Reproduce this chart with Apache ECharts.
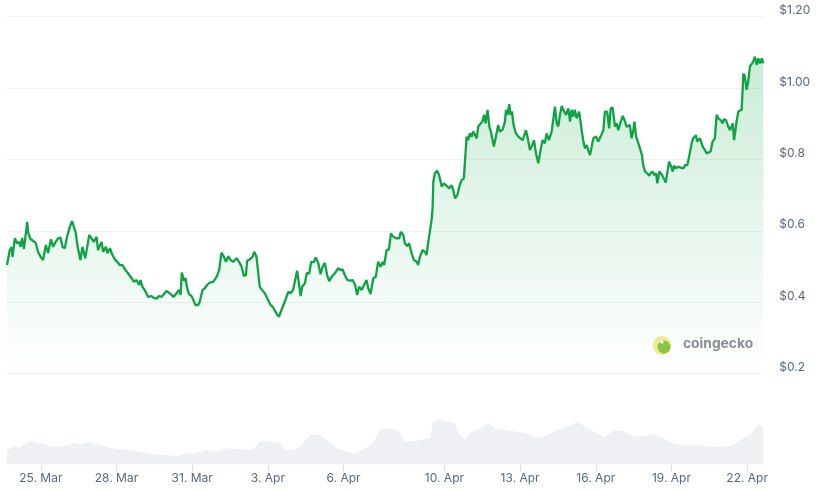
<!DOCTYPE html>
<html>
<head>
<meta charset="utf-8">
<script src="https://cdn.jsdelivr.net/npm/echarts@6/dist/echarts.min.js"></script>
<style>
html,body{margin:0;padding:0;background:#fff;}
#chart{width:827px;height:491px;}
</style>
</head>
<body>
<div id="chart"></div>
<script>
// Time is measured in days from 25 Mar 00:00
const priceDays = [-1.34,-1.23,-1.16,-1.12,-1.03,-0.94,-0.86,-0.80,-0.74,-0.67,-0.59,-0.54,-0.50,-0.41,-0.31,-0.20,-0.11,-0.01,0.09,0.20,0.29,0.40,0.49,0.59,0.69,0.78,0.86,0.95,1.04,1.15,1.24,1.31,1.39,1.46,1.52,1.57,1.65,1.76,1.84,1.92,2.01,2.10,2.21,2.27,2.41,2.47,2.58,2.64,2.74,2.84,2.93,3.03,3.13,3.24,3.33,3.40,3.46,3.60,3.69,3.79,3.90,3.95,4.03,4.12,4.25,4.39,4.48,4.59,4.69,4.79,4.88,4.98,5.09,5.18,5.27,5.38,5.48,5.54,5.59,5.67,5.74,5.80,5.88,5.98,6.04,6.13,6.24,6.30,6.41,6.50,6.59,6.70,6.83,6.97,7.07,7.16,7.26,7.34,7.43,7.52,7.62,7.76,7.86,7.96,8.05,8.13,8.18,8.29,8.39,8.46,8.55,8.62,8.68,8.77,8.88,9.01,9.11,9.19,9.35,9.44,9.54,9.67,9.81,9.90,10.00,10.07,10.16,10.23,10.30,10.36,10.47,10.54,10.64,10.72,10.82,10.90,11.00,11.09,11.17,11.26,11.35,11.43,11.53,11.66,11.79,11.88,11.96,12.05,12.15,12.25,12.36,12.46,12.54,12.62,12.72,12.81,12.91,12.98,13.07,13.18,13.28,13.37,13.47,13.55,13.61,13.71,13.80,13.88,13.94,14.08,14.21,14.27,14.37,14.43,14.52,14.60,14.70,14.79,14.90,14.96,15.03,15.13,15.23,15.29,15.36,15.42,15.49,15.53,15.56,15.62,15.71,15.79,15.89,15.98,16.09,16.19,16.28,16.35,16.42,16.51,16.59,16.68,16.77,16.81,16.88,16.94,17.01,17.08,17.14,17.21,17.28,17.34,17.41,17.50,17.57,17.63,17.71,17.78,17.84,17.91,17.96,18.04,18.13,18.20,18.31,18.40,18.44,18.50,18.57,18.62,18.68,18.73,18.83,18.93,18.99,19.10,19.15,19.23,19.28,19.39,19.48,19.55,19.63,19.72,19.81,19.89,19.98,20.05,20.14,20.25,20.31,20.38,20.45,20.51,20.58,20.65,20.71,20.82,20.91,20.98,21.04,21.11,21.17,21.24,21.34,21.44,21.50,21.57,21.64,21.70,21.77,21.84,21.90,22.01,22.10,22.19,22.30,22.36,22.45,22.53,22.59,22.67,22.76,22.83,22.89,22.99,23.07,23.16,23.22,23.35,23.42,23.49,23.53,23.60,23.66,23.73,23.83,23.88,23.95,24.04,24.12,24.17,24.25,24.31,24.39,24.44,24.52,24.57,24.63,24.70,24.77,24.85,24.91,24.99,25.05,25.10,25.18,25.27,25.36,25.47,25.54,25.63,25.71,25.80,25.86,25.97,26.02,26.13,26.24,26.33,26.40,26.47,26.55,26.63,26.72,26.79,26.86,26.95,27.03,27.08,27.16,27.25,27.32,27.43,27.48,27.52,27.58,27.65,27.72,27.78,27.82,27.85,27.91,27.98,28.04,28.11,28.18,28.24,28.31,28.38,28.44,28.51,28.58,28.64];
const prices = [0.504,0.546,0.554,0.527,0.579,0.565,0.569,0.555,0.580,0.549,0.594,0.625,0.594,0.577,0.572,0.566,0.541,0.527,0.518,0.560,0.538,0.576,0.555,0.569,0.579,0.581,0.555,0.551,0.583,0.611,0.627,0.611,0.593,0.555,0.560,0.518,0.555,0.523,0.555,0.588,0.579,0.569,0.583,0.546,0.569,0.541,0.555,0.537,0.551,0.532,0.520,0.513,0.504,0.504,0.492,0.495,0.481,0.467,0.457,0.462,0.448,0.462,0.443,0.434,0.415,0.417,0.412,0.410,0.417,0.415,0.422,0.431,0.426,0.420,0.415,0.425,0.434,0.420,0.483,0.460,0.467,0.439,0.422,0.417,0.414,0.392,0.392,0.401,0.434,0.439,0.448,0.455,0.457,0.471,0.490,0.539,0.527,0.513,0.529,0.518,0.513,0.523,0.513,0.499,0.473,0.476,0.516,0.520,0.527,0.541,0.527,0.523,0.443,0.434,0.425,0.406,0.392,0.387,0.367,0.359,0.378,0.401,0.429,0.425,0.434,0.457,0.488,0.453,0.417,0.443,0.453,0.481,0.481,0.513,0.512,0.525,0.509,0.478,0.499,0.510,0.476,0.459,0.471,0.481,0.495,0.490,0.492,0.476,0.462,0.460,0.462,0.448,0.420,0.443,0.434,0.448,0.462,0.439,0.423,0.467,0.471,0.513,0.499,0.513,0.504,0.546,0.548,0.593,0.585,0.579,0.579,0.597,0.588,0.565,0.557,0.565,0.537,0.518,0.513,0.504,0.527,0.546,0.541,0.532,0.569,0.574,0.630,0.663,0.738,0.761,0.768,0.756,0.724,0.733,0.726,0.719,0.728,0.714,0.691,0.700,0.724,0.742,0.747,0.750,0.864,0.854,0.873,0.864,0.878,0.878,0.859,0.892,0.887,0.906,0.925,0.901,0.939,0.892,0.878,0.854,0.836,0.864,0.896,0.878,0.884,0.906,0.939,0.925,0.955,0.925,0.934,0.901,0.873,0.864,0.859,0.854,0.864,0.882,0.868,0.826,0.840,0.854,0.817,0.789,0.826,0.854,0.845,0.873,0.854,0.878,0.882,0.948,0.901,0.892,0.925,0.950,0.939,0.925,0.943,0.906,0.939,0.920,0.939,0.915,0.934,0.882,0.854,0.831,0.840,0.826,0.812,0.836,0.859,0.864,0.850,0.864,0.882,0.934,0.934,0.887,0.943,0.945,0.892,0.901,0.882,0.906,0.922,0.906,0.892,0.896,0.859,0.882,0.906,0.864,0.864,0.836,0.812,0.784,0.766,0.761,0.754,0.761,0.766,0.756,0.761,0.733,0.766,0.770,0.756,0.752,0.735,0.770,0.794,0.780,0.766,0.782,0.775,0.780,0.777,0.775,0.784,0.784,0.812,0.845,0.859,0.868,0.850,0.859,0.836,0.826,0.817,0.812,0.822,0.850,0.859,0.925,0.915,0.910,0.901,0.913,0.910,0.892,0.882,0.901,0.854,0.873,0.906,0.934,0.934,0.939,0.995,1.041,1.032,0.995,1.018,1.060,1.065,1.074,1.088,1.065,1.083,1.069,1.083,1.069];

const volumeDays = [-1.34,-1.03,-0.83,-0.57,-0.37,-0.04,0.36,0.75,1.02,1.35,1.55,1.94,2.34,2.74,3.13,3.66,4.06,4.59,4.98,5.38,5.78,6.17,6.57,6.97,7.36,7.89,8.42,8.66,8.95,9.48,9.67,10.00,10.27,10.67,11.06,11.33,11.72,12.12,12.45,12.78,13.18,13.44,13.71,14.04,14.23,14.39,14.76,15.03,15.42,15.56,15.75,16.09,16.42,16.55,16.81,17.01,17.34,17.74,18.07,18.46,18.86,19.26,19.59,19.92,20.45,20.84,21.30,21.77,22.36,22.69,23.09,23.48,23.88,24.28,24.67,25.07,25.60,26.00,26.53,27.05,27.45,27.72,27.98,28.24,28.44,28.64];
const volumes = [58,74,67,87,94,85,75,71,78,87,81,89,78,67,61,55,49,38,38,34,45,47,58,51,65,61,58,91,94,87,58,58,71,118,118,98,65,51,42,61,85,141,145,141,125,95,91,98,105,171,182,171,167,125,101,125,141,165,141,138,131,125,109,109,138,151,171,138,111,138,134,114,111,122,105,85,74,78,71,71,78,98,114,131,162,145];

const tickDays = [0,3,6,9,12,16,19,22,25,28];
const tickLabels = ['25. Mar','28. Mar','31. Mar','3. Apr','6. Apr','10. Apr','13. Apr','16. Apr','19. Apr','22. Apr'];
const priceTicks = [0.2,0.4,0.6,0.8,1.0,1.2];
const priceTickLabels = ['$0.2','$0.4','$0.6','$0.8','$1.00','$1.20'];

const chart = echarts.init(document.getElementById('chart'), null, {renderer:'canvas'});
const FONT = 'Inter, "Noto Sans", sans-serif';
const priceData = priceDays.map((d,i)=>[d,prices[i]]);
const volData = volumeDays.map((d,i)=>[d,volumes[i]]);

const option = {
  animation:false,
  backgroundColor:'#ffffff',
  grid:[
    {left:7,right:63.7,top:16.7,height:356.8},
    {left:7,right:63.7,top:364.5,height:100}
  ],
  xAxis:[
    {type:'value',gridIndex:0,min:-1.34,max:28.64,show:false},
    {type:'value',gridIndex:1,min:-1.34,max:28.64,
     axisLine:{show:false},
     splitLine:{show:false},
     axisTick:{show:true,customValues:tickDays,length:7,lineStyle:{color:'#dde1e6',width:1}},
     axisLabel:{customValues:tickDays,margin:8,color:'#58667e',fontSize:12,fontFamily:FONT,
       formatter:function(v){const i=tickDays.findIndex(t=>Math.abs(t-v)<1e-6);return i>=0?tickLabels[i]:'';}}
    }
  ],
  yAxis:[
    {type:'value',gridIndex:0,position:'right',min:0.2,max:1.2,interval:0.2,
     axisLine:{show:false},axisTick:{show:false},
     splitLine:{show:true,lineStyle:{color:'#eff2f5',width:1}},
     axisLabel:{show:true,showMinLabel:true,showMaxLabel:true,margin:16,align:'left',verticalAlign:'bottom',
       color:'#58667e',fontSize:12,fontFamily:FONT,
       formatter:function(v){const i=priceTicks.findIndex(t=>Math.abs(t-v)<1e-6);return i>=0?priceTickLabels[i]:'';}}
    },
    {type:'value',gridIndex:1,min:0,max:400,show:false,splitLine:{show:false}}
  ],
  graphic:[
    {type:'circle',shape:{cx:662,cy:345.5,r:9.5},style:{fill:'#f4ec9c'},z:1},
    {type:'circle',shape:{cx:664,cy:347,r:6.5},style:{fill:'#8cc63f'},z:1},
    {type:'circle',shape:{cx:662,cy:342,r:1.6},style:{fill:'#ffffff'},z:1},
    {type:'text',left:683,top:337,style:{text:'coingecko',fill:'#8a8f96',font:'bold 13.8px '+FONT},z:1}
  ],
  series:[
    {type:'line',xAxisIndex:1,yAxisIndex:1,data:volData,showSymbol:false,symbol:'none',
     lineStyle:{width:0},areaStyle:{color:'#eef0f3',opacity:1},z:1},
    {type:'line',xAxisIndex:0,yAxisIndex:0,data:priceData,showSymbol:false,symbol:'none',
     lineStyle:{width:2.3,color:'#0fa346'},
     areaStyle:{origin:'start',color:new echarts.graphic.LinearGradient(0,0,0,1,[
       {offset:0,color:'rgba(22,170,75,0.32)'},
       {offset:1,color:'rgba(22,170,75,0.0)'}])},
     z:3}
  ]
};
chart.setOption(option);
</script>
</body>
</html>
